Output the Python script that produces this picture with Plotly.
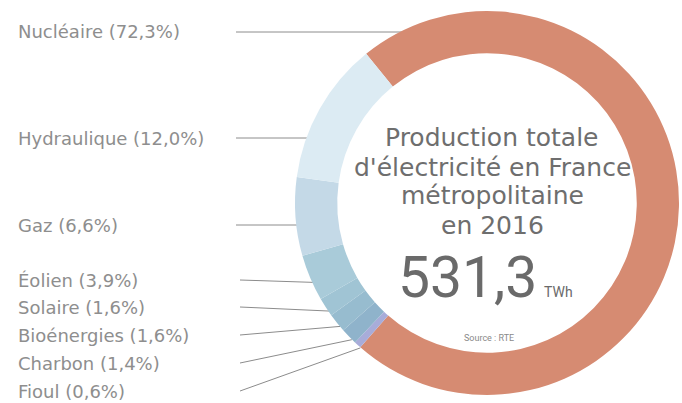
import math
import plotly.graph_objects as go

W, H = 682, 403

# ---- data ----
labels = ["Nucléaire", "Fioul", "Charbon", "Bioénergies", "Solaire", "Éolien", "Gaz", "Hydraulique"]
values = [72.3, 0.6, 1.4, 1.6, 1.6, 3.9, 6.6, 12.0]
label_order = ["Nucléaire", "Hydraulique", "Gaz", "Éolien", "Solaire", "Bioénergies", "Charbon", "Fioul"]
colors = {
    "Nucléaire": "#d68b72",
    "Hydraulique": "#dcebf3",
    "Gaz": "#c4d9e7",
    "Éolien": "#a9cbd9",
    "Solaire": "#a0c4d4",
    "Bioénergies": "#97bccf",
    "Charbon": "#8fb3cb",
    "Fioul": "#a8acd9",
}
total_text = "531,3"
unit_text = "TWh"
title_lines = ["Production totale", "d'électricité en France", "métropolitaine", "en 2016"]
source_text = "Source : RTE"

# ---- geometry (pixels) ----
cx, cy, R = 487, 203, 192
hole = 0.78
rotation = -39

def px_x(x):
    return x / W

def px_y(y):
    return 1 - y / H

fig = go.Figure(go.Pie(
    labels=labels,
    values=values,
    sort=False,
    direction="clockwise",
    rotation=rotation,
    hole=hole,
    marker=dict(colors=[colors[l] for l in labels], line=dict(width=0)),
    textinfo="none",
    hoverinfo="label+percent",
    domain=dict(x=[px_x(cx - R), px_x(cx + R)], y=[px_y(cy + R), px_y(cy - R)]),
    showlegend=False,
))

# slice mid angles (deg clockwise from 12 o'clock)
tot = sum(values)
mid = {}
acc = rotation
for l, v in zip(labels, values):
    a = v / tot * 360
    mid[l] = acc + a / 2
    acc += a

label_y = {"Nucléaire": 32, "Hydraulique": 138, "Gaz": 225, "Éolien": 280,
           "Solaire": 307, "Bioénergies": 335, "Charbon": 363, "Fioul": 391}
val = dict(zip(labels, values))

shapes = []
annotations = []
for l in label_order:
    y = label_y[l]
    txt = f"{l} ({val[l]:.1f}%)".replace(".", ",")
    annotations.append(dict(x=px_x(16), y=px_y(y), xref="paper", yref="paper",
                            text=txt, showarrow=False, xanchor="left", yanchor="middle",
                            font=dict(family="DejaVu Sans", size=18, color="#8e8e8e")))
    if l in ("Nucléaire", "Hydraulique", "Gaz"):
        dy = y - cy
        ex = cx - math.sqrt(R * R - dy * dy) + 4
        ey = y
        sx = 236
    else:
        a = math.radians(mid[l])
        ex = cx + (R - 4) * math.sin(a)
        ey = cy - (R - 4) * math.cos(a) + 6
        sx = 240
    shapes.append(dict(type="line", xref="paper", yref="paper",
                       x0=px_x(sx), y0=px_y(y), x1=px_x(ex), y1=px_y(ey),
                       line=dict(color="#8c8c8c", width=1), layer="below"))

# center text
line_ys = [137, 167, 196, 225]
for t, y in zip(title_lines, line_ys):
    annotations.append(dict(x=px_x(492), y=px_y(y), xref="paper", yref="paper",
                            text=t, showarrow=False, xanchor="center", yanchor="middle",
                            font=dict(family="DejaVu Sans", size=25, color="#6e6e6e")))
annotations.append(dict(x=px_x(539), y=px_y(277), xref="paper", yref="paper",
                        text=total_text, showarrow=False, xanchor="right", yanchor="middle",
                        font=dict(family="Roboto", size=57, color="#6a6a6a")))
annotations.append(dict(x=px_x(542), y=px_y(292), xref="paper", yref="paper",
                        text=unit_text, showarrow=False, xanchor="left", yanchor="middle",
                        font=dict(family="Roboto", size=14, color="#6a6a6a")))
annotations.append(dict(x=px_x(489), y=px_y(338), xref="paper", yref="paper",
                        text=source_text, showarrow=False, xanchor="center", yanchor="middle",
                        font=dict(family="Roboto", size=9, color="#8a8a8a")))

fig.update_layout(
    width=W, height=H,
    margin=dict(l=0, r=0, t=0, b=0),
    paper_bgcolor="white", plot_bgcolor="white",
    shapes=shapes, annotations=annotations,
)
fig.write_html("out.html")
